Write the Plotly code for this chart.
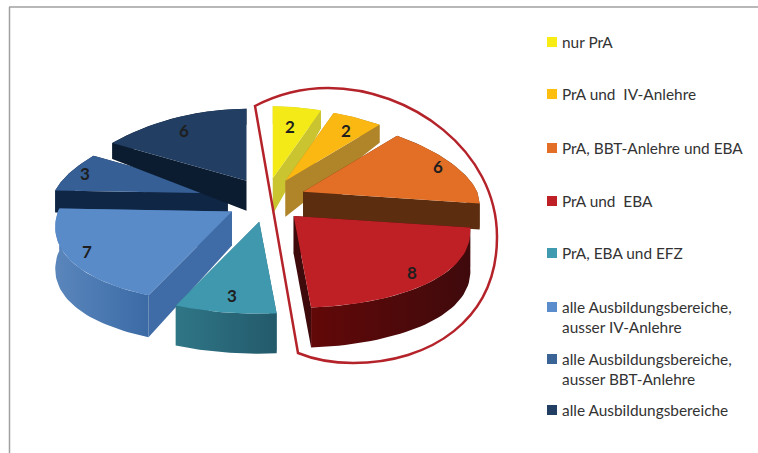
import math
import plotly.graph_objects as go

categories = ["nur PrA", "PrA und  IV-Anlehre", "PrA, BBT-Anlehre und EBA", "PrA und  EBA",
              "PrA, EBA und EFZ", "alle Ausbildungsbereiche,<br>ausser IV-Anlehre",
              "alle Ausbildungsbereiche,<br>ausser BBT-Anlehre", "alle Ausbildungsbereiche"]
values = [2, 2, 6, 8, 3, 7, 3, 6]
top_colors = ["#F3EA18", "#FBB812", "#E36F26", "#BE2026", "#3F98AE", "#5A8BC9", "#365F96", "#223E62"]
face_colors = ["#C9C42F", "#B0852A", "#5C2E0F", "#3F0A0C", "#2A6A7A", "#3F6CA6", "#102645", "#0C1C30"]
wall_left = ["#C9C42F", "#B0852A", "#5C2E0F", "#620808", "#2F7687", "#5A86BC", "#102645", "#0C1C30"]
wall_right = ["#C9C42F", "#B0852A", "#5C2E0F", "#3F0A0C", "#235A6B", "#3B6AA5", "#102645", "#0C1C30"]
swatch_colors = ["#F7EC13", "#FDBE10", "#E36F26", "#BE2026", "#419BB0", "#5B8CCB", "#3A6496", "#223E62"]
label_pos = [(290, 126), (346, 130), (438, 166), (412, 272), (232, 295), (87, 251), (85, 173), (184, 130)]
legend_y = [42, 94, 148, 201, 253, 307, 359, 410]
draw_order = [0, 1, 6, 7, 2, 5, 4, 3]
rim_depth = [18, 18, 26, 40, 40, 42, 22, 16]
apex_depth = [36, 36, 26, 38, 36, 34, 22, 30]

CX, CY = 266, 200
RX, RY_FAR, RY_NEAR = 174, 72, 92
PULL_X, PULL_Y = 40, 22
PERSPECTIVE = 0.18


def rim(theta, ax, ay):
    c = math.cos(theta)
    return (ax + RX * math.sin(theta) * (1 - PERSPECTIVE * c),
            ay - (RY_FAR if c > 0 else RY_NEAR) * c)


def poly(points, color=None, gradient=None):
    xs = [p[0] for p in points] + [points[0][0]]
    ys = [p[1] for p in points] + [points[0][1]]
    kw = dict(fillgradient=gradient) if gradient else dict(fillcolor=color)
    return go.Scatter(x=xs, y=ys, mode="lines", fill="toself", line=dict(width=0),
                      hoverinfo="skip", showlegend=False, **kw)


total = sum(values)
starts = [sum(values[:i]) / total * 2 * math.pi for i in range(len(values))]
fig = go.Figure()

for i in draw_order:
    a0 = starts[i]
    a1 = a0 + values[i] / total * 2 * math.pi
    mid = (a0 + a1) / 2
    apex = (CX + PULL_X * math.sin(mid), CY - PULL_Y * math.cos(mid))
    apex_low = (apex[0], apex[1] + apex_depth[i])
    n = 40
    arc = [rim(a0 + (a1 - a0) * k / n, *apex) for k in range(n + 1)]
    arc_low = [(p[0], p[1] + rim_depth[i]) for p in arc]
    fig.add_trace(poly([apex, arc[0], arc_low[0], apex_low], face_colors[i]))
    fig.add_trace(poly([apex, arc[-1], arc_low[-1], apex_low], face_colors[i]))
    fig.add_trace(poly(arc + arc_low[::-1],
                       gradient=dict(type="horizontal",
                                     colorscale=[[0, wall_left[i]], [1, wall_right[i]]])))
    fig.add_trace(poly([apex] + arc, top_colors[i]))

fig.add_trace(go.Scatter(x=[552] * len(categories), y=legend_y, mode="markers",
                         marker=dict(symbol="square", size=10, color=swatch_colors),
                         hoverinfo="skip", showlegend=False))

annotations = []
for v, (x, y) in zip(values, label_pos):
    annotations.append(dict(x=x, y=y, text=f"<b>{v}</b>", showarrow=False,
                            font=dict(family="Lato", size=17, color="#1E1E1E")))
for c, y in zip(categories, legend_y):
    lines = c.count("<br>")
    annotations.append(dict(x=560, y=y + lines * 10, text=c, showarrow=False, xanchor="left",
                            align="left", font=dict(family="Lato", size=15.4, color="#333333")))

shapes = [
    dict(type="line", x0=9.5, x1=9.5, y0=7, y1=453, line=dict(color="#A0A0A0", width=1.5)),
    dict(type="line", x0=9, x1=758, y0=7, y1=7, line=dict(color="#A0A0A0", width=1.5)),
    dict(type="path",
         path="M255,106 C280,93 305,88 328,88 C410,88 497,150 497,237 "
              "C497,320 430,363 353,363 C333,363 315,360 298,353 Z",
         line=dict(color="#B5232A", width=2.5), fillcolor="rgba(0,0,0,0)"),
]

fig.update_layout(
    width=758, height=453, margin=dict(l=0, r=0, t=0, b=0),
    paper_bgcolor="white", plot_bgcolor="white", showlegend=False,
    xaxis=dict(range=[0, 758], visible=False, fixedrange=True),
    yaxis=dict(range=[453, 0], visible=False, fixedrange=True),
    annotations=annotations, shapes=shapes,
)
fig.write_html("out.html", config=dict(displayModeBar=False),
               post_script="document.body.style.margin='0';document.body.style.overflow='hidden';")
